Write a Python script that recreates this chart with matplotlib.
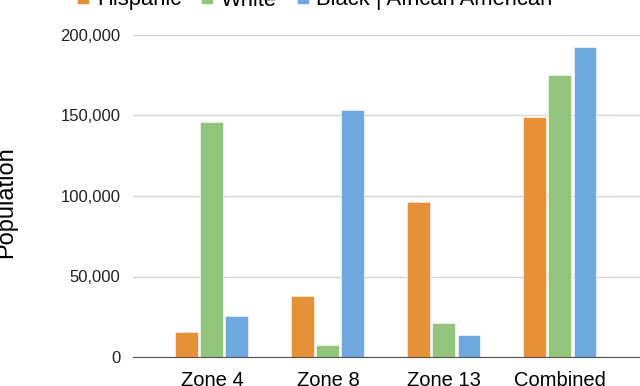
import matplotlib.pyplot as plt
import numpy as np
from matplotlib.ticker import FuncFormatter

plt.rcParams['font.family'] = ['Liberation Sans', 'DejaVu Sans']

zones = ['Zone 4', 'Zone 8', 'Zone 13', 'Combined']
series = ['Hispanic', 'White', 'Black | African American']
hispanic = [15500, 37900, 96300, 149000]
white = [146000, 7500, 21100, 175000]
black = [25500, 153400, 13700, 192500]
colors = ['#e69138', '#93c47d', '#6fa8dc']

fig = plt.figure(figsize=(6.4, 3.86), dpi=100)
ax = fig.add_axes([133 / 640, 1 - 357 / 386, 1 - 133 / 640, (357 - 35) / 386])

x = np.arange(len(zones))
width = 0.198
step = 0.216
for i, (vals, name) in enumerate(zip([hispanic, white, black], series)):
    ax.bar(x + (i - 1) * step, vals, width, color=colors[i], label=name,
           edgecolor='white', linewidth=0.4, zorder=3)

ax.set_xlim(-0.68, 3.69)
ax.set_ylim(0, 200000)
ax.set_yticks([0, 50000, 100000, 150000, 200000])
ax.yaxis.set_major_formatter(FuncFormatter(lambda v, p: f'{int(v):,}'))
ax.set_xticks(x)
ax.set_xticklabels(zones, fontsize=14.5)
ax.tick_params(axis='y', labelsize=12, length=0, pad=9, colors='#222222')
ax.tick_params(axis='x', length=0, pad=10)
ax.grid(axis='y', color='#d6d6d6', linewidth=1, zorder=0)
for s in ['top', 'right', 'left']:
    ax.spines[s].set_visible(False)
ax.spines['bottom'].set_color('#555555')
ax.spines['bottom'].set_zorder(4)
ax.set_ylabel('Population', fontsize=17)
ax.yaxis.set_label_coords(-0.229, 0.48)

fig.legend(loc='center', bbox_to_anchor=(0.492, 1.0), ncol=3, frameon=False,
           fontsize=15.8, handlelength=0.55, handleheight=0.55, columnspacing=0.9,
           handletextpad=0.35)

fig.savefig('out.png', dpi=100)
